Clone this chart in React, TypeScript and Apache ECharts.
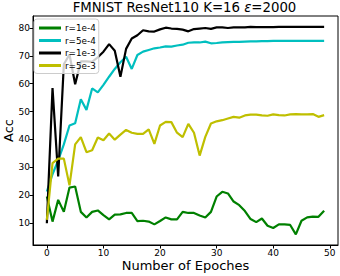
import React, { useEffect, useRef } from "react";
import * as echarts from "echarts";

const epochs: number[] = Array.from({ length: 50 }, (_, i) => i);

const r1e4: number[] = [
  19.5, 10.5, 18.3, 14.0, 22.7, 23.1, 14.0, 12.0, 14.0, 14.5,
  12.8, 11.3, 13.0, 13.1, 13.6, 13.6, 10.7, 10.8, 10.5, 9.5,
  10.7, 12.0, 11.3, 11.3, 14.0, 13.6, 13.6, 12.7, 12.0, 14.0,
  19.5, 21.2, 20.6, 17.7, 16.4, 14.3, 11.4, 10.3, 11.6, 9.0,
  8.2, 9.5, 9.5, 9.3, 5.9, 10.8, 12.0, 12.3, 12.2, 14.4,
];

const r5e4: number[] = [
  21.3, 27.5, 32.5, 38.2, 45.0, 45.8, 54.4, 50.6, 58.3, 56.9,
  59.6, 62.5, 65.3, 67.7, 69.7, 65.3, 70.3, 71.5, 72.1, 72.7,
  73.0, 73.4, 73.3, 73.7, 74.0, 74.7, 74.8, 74.8, 75.1, 74.5,
  74.6, 74.8, 74.9, 75.0, 75.0, 75.1, 75.2, 75.2, 75.3, 75.3,
  75.4, 75.4, 75.4, 75.4, 75.4, 75.4, 75.4, 75.4, 75.4, 75.4,
];

const r1e3: number[] = [
  9.9, 58.4, 26.7, 67.0, 70.5, 59.8, 68.0, 68.0, 67.8, 69.5,
  71.5, 74.2, 71.8, 62.5, 72.5, 76.2, 77.4, 79.2, 78.8, 78.7,
  79.5, 80.1, 79.8, 79.7, 79.4, 78.8, 79.6, 79.8, 80.0, 79.7,
  80.2, 80.2, 80.0, 80.2, 80.2, 80.2, 80.4, 80.3, 80.3, 80.3,
  80.3, 80.4, 80.4, 80.4, 80.4, 80.4, 80.4, 80.4, 80.4, 80.4,
];

const r5e3: number[] = [
  11.1, 31.5, 33.1, 33.1, 23.5, 38.2, 40.8, 35.4, 36.1, 40.7,
  39.7, 42.1, 39.9, 41.7, 43.4, 42.4, 42.0, 42.0, 43.6, 38.4,
  45.0, 46.3, 46.2, 42.4, 40.8, 45.6, 42.4, 34.2, 40.9, 45.7,
  46.5, 46.9, 47.5, 48.1, 47.8, 48.6, 48.9, 48.9, 48.6, 48.5,
  49.0, 48.7, 48.6, 49.0, 49.1, 49.0, 49.0, 49.1, 48.1, 48.7,
];

const seriesNames: string[] = ["r=1e-4", "r=5e-4", "r=1e-3", "r=5e-3"];
const seriesColors: string[] = ["#008000", "#00bfbf", "#000000", "#bfbf00"];
const xTicks: number[] = [0, 10, 20, 30, 40, 50];
const yTicks: number[] = [10, 20, 30, 40, 50, 60, 70, 80];

const FONT = "DejaVu Sans";

export default function App() {
  const ref = useRef<HTMLDivElement>(null);
  useEffect(() => {
    if (!ref.current) return;
    const chart = echarts.init(ref.current, null, { renderer: "svg" });
    const allData = [r1e4, r5e4, r1e3, r5e3];
    chart.setOption({
      animation: false,
      backgroundColor: "#ffffff",
      title: {
        text: "FMNIST ResNet110 K=16 {b|ε}=2000",
        left: 184.5,
        textAlign: "center",
        top: 1,
        padding: 0,
        textStyle: {
          fontFamily: FONT,
          fontSize: 13.3,
          fontWeight: "normal",
          color: "#000",
          rich: {
            b: { fontFamily: FONT, fontSize: 13.3, color: "#000", fontWeight: "normal", fontStyle: "italic" },
          },
        },
      },
      legend: {
        orient: "vertical",
        left: 34,
        top: 19,
        z: 20,
        itemWidth: 22,
        itemHeight: 3,
        itemGap: 0.5,
        icon: "rect",
        padding: [3, 3, 2, 5],
        backgroundColor: "rgba(255,255,255,0.8)",
        borderColor: "#cccccc",
        borderWidth: 1,
        borderRadius: 3,
        textStyle: { fontFamily: FONT, fontSize: 8.8, lineHeight: 12, color: "#000", padding: [0, 0, 0, -1] },
        data: seriesNames,
      },
      grid: {
        left: 33,
        right: 2,
        top: 16,
        bottom: 31,
        show: true,
        borderColor: "#000",
        borderWidth: 1,
        backgroundColor: "transparent",
        containLabel: false,
        outerBoundsMode: "none",
      },
      xAxis: {
        type: "value",
        min: -2.45,
        max: 51.45,
        name: "Number of Epoches",
        nameLocation: "middle",
        nameGap: 14,
        nameMoveOverlap: false,
        nameTextStyle: { fontFamily: FONT, fontSize: 13, color: "#000" },
        axisLine: { show: true, onZero: false, lineStyle: { color: "#000", width: 1 } },
        axisTick: { show: true, length: 3.5, lineStyle: { color: "#000" }, customValues: xTicks },
        axisLabel: { fontFamily: FONT, fontSize: 9, color: "#000", margin: 3.5, customValues: xTicks },
        splitLine: { show: false },
      },
      yAxis: {
        type: "value",
        min: 2.1,
        max: 84.3,
        name: "Acc",
        nameLocation: "middle",
        nameGap: 18,
        nameRotate: 90,
        nameMoveOverlap: false,
        nameTextStyle: { fontFamily: FONT, fontSize: 13, color: "#000" },
        axisLine: { show: true, onZero: false, lineStyle: { color: "#000", width: 1 } },
        axisTick: { show: true, length: 3.5, lineStyle: { color: "#000" }, customValues: yTicks },
        axisLabel: { fontFamily: FONT, fontSize: 9, color: "#000", margin: 3, customValues: yTicks },
        splitLine: { show: false },
      },
      series: seriesNames.map((name, k) => ({
        name,
        type: "line",
        data: epochs.map((e, i) => [e, allData[k][i]]),
        symbol: "none",
        showSymbol: false,
        lineStyle: { color: seriesColors[k], width: 2.2 },
        itemStyle: { color: seriesColors[k] },
        z: 2 + k,
      })),
    });
    return () => chart.dispose();
  }, []);
  return <div ref={ref} style={{ position: "absolute", left: 0, top: 0, width: 340, height: 276 }} />;
}
